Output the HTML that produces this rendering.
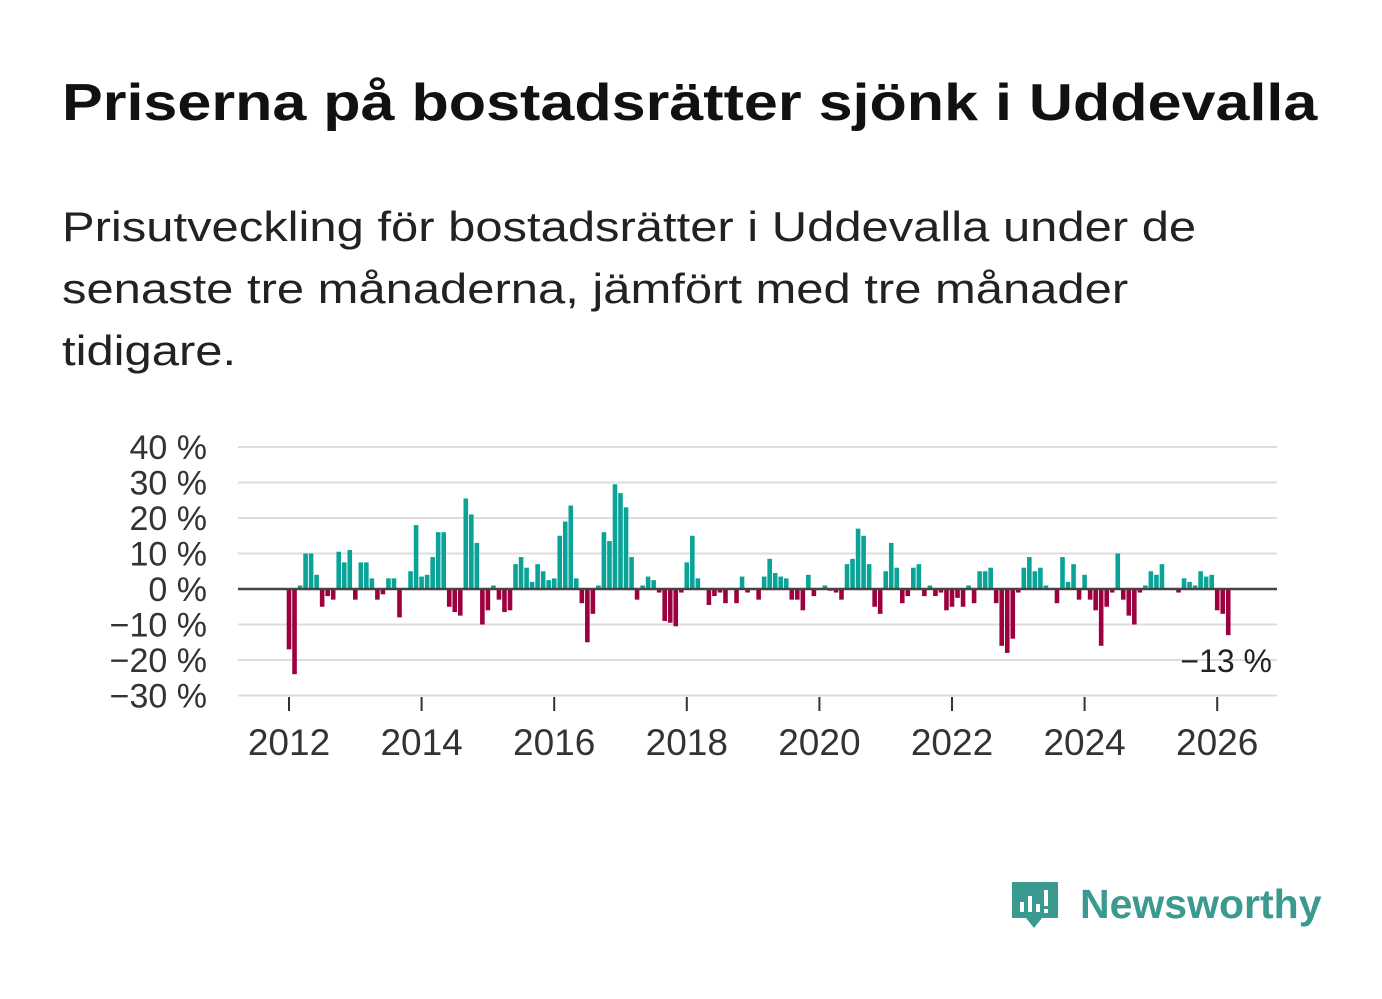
<!DOCTYPE html>
<html><head><meta charset="utf-8">
<style>
body{margin:0;width:1382px;height:999px;background:#fff;font-family:"Liberation Sans",sans-serif;overflow:hidden;position:relative}
#title{position:absolute;left:62px;top:73px;font-size:52px;font-weight:bold;color:#111;margin:0;white-space:nowrap;transform:scaleX(1.174);transform-origin:0 0}
#sub{position:absolute;left:62px;top:196px;font-size:42px;line-height:62px;color:#222;margin:0;white-space:nowrap;transform:scaleX(1.165);transform-origin:0 0}
#logo{position:absolute;left:1010px;top:878px}
</style></head><body>
<h1 id="title">Priserna på bostadsrätter sjönk i Uddevalla</h1>
<p id="sub">Prisutveckling för bostadsrätter i Uddevalla under de<br>senaste tre månaderna, jämfört med tre månader<br>tidigare.</p>
<svg id="chart" width="1382" height="999" style="position:absolute;left:0;top:0"></svg>
<div id="logo">
<svg width="320" height="64">
<path d="M2 4 h46 v36 h-16 l-8 10 l-8 -10 h-14 z" fill="#3a9a8f"/>
<rect x="10" y="24" width="4" height="10" fill="#fff"/><rect x="18" y="18" width="4" height="16" fill="#fff"/><rect x="26" y="26" width="4" height="8" fill="#fff"/><rect x="34" y="12" width="4" height="16" fill="#fff"/><rect x="34" y="31" width="4" height="4" fill="#fff"/>
<text x="70" y="40" font-family="Liberation Sans, sans-serif" font-size="41" font-weight="bold" fill="#3a9a8f">Newsworthy</text>
</svg></div>
<script>
const values2012=[-17,-24,1,10,10,4,-5,-2,-3,10.5,7.5,11];
const values2013=[-3,7.5,7.5,3,-3,-1.5,3,3,-8,0,5,18];
const values2014=[3.5,4,9,16,16,-5,-6.5,-7.5,25.5,21,13,-10];
const values2015=[-6,1,-3,-6.5,-6,7,9,6,2,7,5,2.5];
const values2016=[3,15,19,23.5,3,-4,-15,-7,1,16,13.5,29.5];
const values2017=[27,23,9,-3,1,3.5,2.5,-1,-9,-9.5,-10.5,-1];
const values2018=[7.5,15,3,0,-4.5,-2,-1,-4,0,-4,3.5,-1];
const values2019=[0,-3,3.5,8.5,4.5,3.5,3,-3,-3,-6,4,-2];
const values2020=[0,1,-0.5,-1,-3,7,8.5,17,15,7,-5,-7];
const values2021=[5,13,6,-4,-2,6,7,-2,1,-2,-1,-6];
const values2022=[-5,-2.5,-5,1,-4,5,5,6,-4,-16,-18,-14];
const values2023=[-1,6,9,5,6,1,0,-4,9,2,7,-3];
const values2024=[4,-3,-6,-16,-5,-1,10,-3,-7.5,-10,-1,1];
const values2025=[5,4,7,0,0,-1,3,2,1,5,3.5,4];
const values2026=[-6,-7,-13];
const startYear=2012;
const yTicks=[40,30,20,10,0,-10,-20,-30];
const yTickLabels=["40 %","30 %","20 %","10 %","0 %","−10 %","−20 %","−30 %"];
const xTicks=[2012,2014,2016,2018,2020,2022,2024,2026];
const lastLabel="−13 %";
const values=[].concat(values2012,values2013,values2014,values2015,values2016,values2017,values2018,values2019,values2020,values2021,values2022,values2023,values2024,values2025,values2026);
const svg=document.getElementById('chart');const NS='http://www.w3.org/2000/svg';
const y=v=>589-v*3.55;
const x=t=>289+(t-startYear)*66.3;
function mk(tag,at){const e=document.createElementNS(NS,tag);for(const k in at)e.setAttribute(k,at[k]);svg.appendChild(e);return e;}
yTicks.forEach((t,i)=>{
 if(t!==0){const g=mk('line',{x1:238,x2:1277,y1:y(t),y2:y(t),stroke:'#ddd','stroke-width':2});
 
 }
 const l=mk('text',{x:207,y:y(t)+12,'text-anchor':'end','font-size':34,fill:'#333','font-family':'Liberation Sans, sans-serif'});
 l.textContent=yTickLabels[i];
 
 
});
values.forEach((v,i)=>{
 const cx=x(startYear+i/12);
 const r=mk('rect',{x:cx-2.3,y:Math.min(y(v),y(0)),width:4.6,height:Math.abs(y(v)-y(0)),fill:v>=0?'#0aa398':'#9c003f'});
 
 
});
const z=mk('line',{x1:238,x2:1277,y1:y(0),y2:y(0),stroke:'#444','stroke-width':2.5});


xTicks.forEach(t=>{
 const tk=mk('line',{x1:x(t),x2:x(t),y1:697,y2:711,stroke:'#333','stroke-width':2});
 
 
 const l=mk('text',{x:x(t),y:755,'text-anchor':'middle','font-size':37,fill:'#333','font-family':'Liberation Sans, sans-serif'});
 l.textContent=t;
 
 
});
const ll=mk('text',{x:1272,y:672,'text-anchor':'end','font-size':32,fill:'#222','font-family':'Liberation Sans, sans-serif'});
ll.textContent=lastLabel;


</script>
</body></html>
